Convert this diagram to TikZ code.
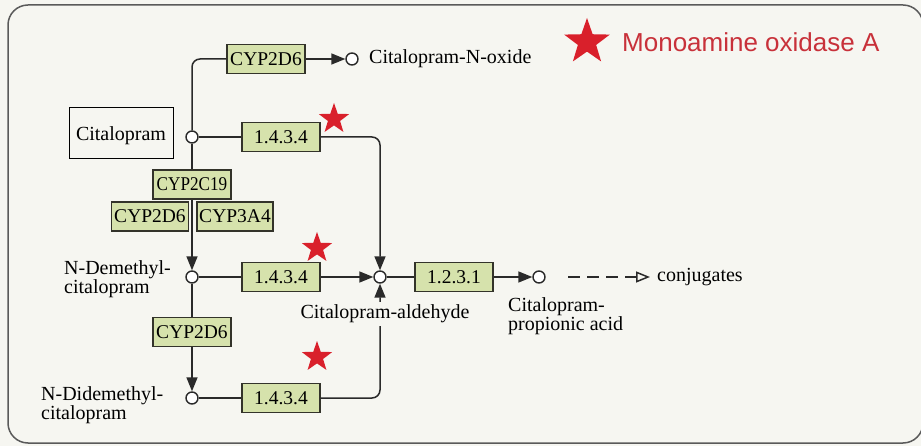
\documentclass[tikz,border=0pt]{standalone}
\usepackage{graphicx}
\usepackage{fontspec}
\setmainfont{Liberation Serif}
\newfontfamily\legendfont{Liberation Sans}
\usetikzlibrary{shapes.geometric,arrows.meta,calc}
\definecolor{paper}{HTML}{F6F6F1}
\definecolor{enzfill}{HTML}{D6E2AC}
\definecolor{enzline}{HTML}{33332A}
\definecolor{ink}{HTML}{2A2A2A}
\definecolor{framegray}{HTML}{5A5A5A}
\definecolor{starred}{HTML}{D9202B}
\definecolor{legendred}{HTML}{C8313A}
\begin{document}
\begin{tikzpicture}[x=1pt,y=-1pt,
  enzyme/.style={draw=enzline, fill=enzfill, line width=1.3pt, minimum width=78pt,
    minimum height=29pt, inner sep=0pt, font=\fontsize{19.5}{19.5}\selectfont},
  cpd/.style={circle, draw=ink, fill=white, line width=1.4pt, minimum size=12pt, inner sep=0pt},
  lbl/.style={font=\fontsize{20}{18.5}\selectfont, inner sep=0pt, text=black},
  link/.style={draw=ink, line width=1.5pt},
  react/.style={link, -{Triangle[length=14pt,width=11pt]}},
  mao/.style={star, star points=5, star point ratio=2.5, fill=starred,
    minimum size=32pt, inner sep=0pt},
]
% paper and frame
\fill[paper] (0,0) rectangle (921,446);
\useasboundingbox (0,0) rectangle (921,446);
\draw[framegray, line width=1.5pt, rounded corners=20pt] (8,5) rectangle (923,443);

% compounds
\node[draw=black, line width=0.8pt, fill=paper, minimum width=104pt, minimum height=51pt,
  inner sep=0pt, text height=20pt, font=\fontsize{20}{20}\selectfont] (citbox) at (121,132.5) {Citalopram};
\node[cpd] (c1) at (192,137) {};
\node[cpd] (c2) at (352,59) {};
\node[cpd] (c3) at (192,277) {};
\node[cpd] (c4) at (380,277) {};
\node[cpd] (c5) at (192,398) {};
\node[cpd] (c6) at (539,277) {};

% enzymes
\node[enzyme] (e2d6a) at (266,59) {CYP2D6};
\node[enzyme] (ea) at (281,137) {1.4.3.4};
\node[enzyme] (e2c19) at (192,184.5) {\scalebox{0.88}[1]{CYP2C19}};
\node[enzyme, minimum width=77pt] (e2d6b) at (150,216.5) {CYP2D6};
\node[enzyme, minimum width=76pt] (e3a4) at (235,216.5) {CYP3A4};
\node[enzyme] (eb) at (281,277) {1.4.3.4};
\node[enzyme] (e2d6c) at (192,332) {CYP2D6};
\node[enzyme] (ec) at (281,398) {1.4.3.4};
\node[enzyme] (ed) at (454,277) {1.2.3.1};

% reactions
\path[link, rounded corners=8pt] (c1.north) |- (e2d6a.west);
\draw[react] (e2d6a.east) -- (c2.west);
\path[link] (c1.east) -- (ea.west);
\draw[react, rounded corners=8pt] (ea.east) -| (c4.north);
\path[link] (c1.south) -- (e2c19.north);
\draw[react] (e2c19.south) -- (c3.north);
\path[link] (c3.east) -- (eb.west);
\draw[react] (eb.east) -- (c4.west);
\path[link] (c3.south) -- (e2d6c.north);
\draw[react] (e2d6c.south) -- (c5.north);
\path[link] (c5.east) -- (ec.west);
\draw[react, rounded corners=8pt] (ec.east) -| (c4.south);
\path[link] (c4.east) -- (ed.west);
\draw[react] (ed.east) -- (c6.west);
\coordinate (dashfrom) at (568,277);
\coordinate (dashto) at (650,277);
\draw[link, dash pattern=on 12pt off 7pt, -{Triangle[open, length=14pt, width=11pt]}] (dashfrom) -- (dashto);

% labels
\node[lbl, anchor=west] (noxide) at (369,59) {Citalopram-N-oxide};
\node[lbl, anchor=west, align=left] (ndm) at (64,279) {N-Demethyl-\\citalopram};
\node[lbl, anchor=west, align=left] (nddm) at (41,405) {N-Didemethyl-\\citalopram};
\node[lbl, fill=paper, inner xsep=2pt, inner ysep=3pt] (ald) at (385,314) {Citalopram-aldehyde};
\node[lbl, anchor=west, align=left] (prop) at (508,316) {Citalopram-\\propionic acid};
\node[lbl, anchor=west] (conj) at (657,277) {conjugates};

% monoamine oxidase A marks
\node[mao] (s1) at (334,119) {};
\node[mao] (s2) at (317,248) {};
\node[mao] (s3) at (317,357) {};

% legend
\node[mao, minimum size=48pt] (legstar) at (587,42) {};
\node[anchor=west, inner sep=0pt, text=legendred, font=\legendfont\fontsize{26}{26}\selectfont]
  (legtext) at (622,42) {Monoamine oxidase A};
\end{tikzpicture}
\end{document}
